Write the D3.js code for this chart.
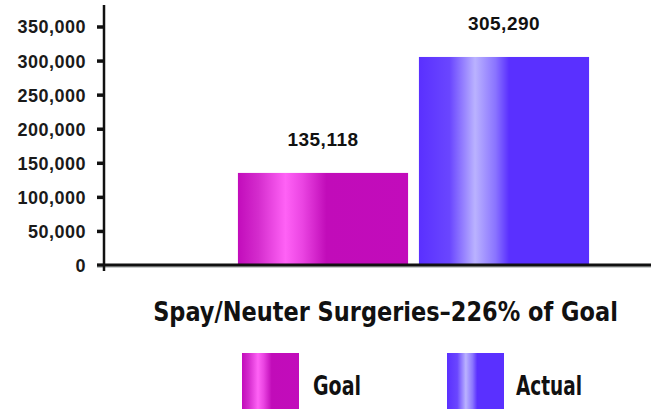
<!DOCTYPE html>
<html>
<head>
<meta charset="utf-8">
<script src="https://cdn.jsdelivr.net/npm/d3@7"></script>
<style>
  html, body { margin: 0; padding: 0; background: #fff; }
  svg { display: block; }
</style>
</head>
<body>
<svg id="chart" width="651" height="409"></svg>
<script>
const categories = ["Goal", "Actual"];
const values = [135118, 305290];
const valueLabels = ["135,118", "305,290"];
const yTicks = [0, 50000, 100000, 150000, 200000, 250000, 300000, 350000];
const title = "Spay/Neuter Surgeries\u2013226% of Goal";

const svg = d3.select("#chart");
const defs = svg.append("defs");

const grads = {
  Goal: [
    [0, "#c20cbb"], [0.12, "#d42ccd"], [0.28, "#ff62f6"], [0.38, "#ea44e2"],
    [0.52, "#c10cb9"], [1, "#c20cbb"]
  ],
  Actual: [
    [0, "#5a30ff"], [0.18, "#6a46ff"], [0.33, "#bab2ff"], [0.45, "#8a74ff"],
    [0.53, "#5a30ff"], [1, "#5a30ff"]
  ]
};
Object.entries(grads).forEach(([k, stops]) => {
  const g = defs.append("linearGradient").attr("id", "g" + k)
    .attr("x1", "0%").attr("x2", "100%").attr("y1", "0%").attr("y2", "0%");
  stops.forEach(([o, c]) => g.append("stop").attr("offset", o).attr("stop-color", c));
});

const y = d3.scaleLinear().domain([0, 350000]).range([265, 26.5]);
const x = d3.scaleBand().domain(categories).range([232.5, 594.5])
  .paddingInner(0.06).paddingOuter(0.03);

const axisX = 104;
const baseY = y(0);

// bars
svg.selectAll("rect.bar").data(categories).join("rect")
  .attr("class", "bar")
  .attr("x", d => x(d))
  .attr("width", x.bandwidth())
  .attr("y", (d, i) => y(values[i]))
  .attr("height", (d, i) => baseY - y(values[i]))
  .attr("fill", d => `url(#g${d})`);

// value labels
svg.selectAll("text.val").data(categories).join("text")
  .attr("class", "val")
  .attr("x", d => x(d) + x.bandwidth() / 2)
  .attr("y", (d, i) => y(values[i]) - 27)
  .attr("text-anchor", "middle")
  .attr("font-family", "'Liberation Sans', Arial, sans-serif")
  .attr("font-weight", "bold")
  .attr("font-size", 19)
  .attr("letter-spacing", 0.5)
  .attr("fill", "#111")
  .text((d, i) => valueLabels[i]);

// y axis
const yAxis = d3.axisLeft(y).tickValues(yTicks).tickFormat(d3.format(","))
  .tickSize(7).tickPadding(11).tickSizeOuter(0);
const ga = svg.append("g").attr("transform", `translate(${axisX},0)`).call(yAxis);
ga.select(".domain").remove();
ga.selectAll(".tick line").attr("stroke", "#111").attr("stroke-width", 3.5);
ga.selectAll(".tick text")
  .attr("font-family", "'Liberation Sans', Arial, sans-serif")
  .attr("font-weight", "bold")
  .attr("font-size", 18)
  .attr("letter-spacing", 0.5)
  .attr("fill", "#1a1a1a")
  .attr("dy", "0.36em");

// baseline with slight shadow
svg.append("line").attr("x1", 97).attr("x2", 651).attr("y1", baseY + 2).attr("y2", baseY + 2)
  .attr("stroke", "#b8bcbc").attr("stroke-width", 1.5);
svg.append("line").attr("x1", 97).attr("x2", 651).attr("y1", baseY).attr("y2", baseY)
  .attr("stroke", "#111").attr("stroke-width", 3);
// vertical axis line
svg.append("line").attr("x1", axisX).attr("x2", axisX).attr("y1", 5).attr("y2", 271)
  .attr("stroke", "#111").attr("stroke-width", 2.5);

// place a condensed-looking text: fit width, then stretch vertically to a cap height
function condensedText(str, px, py, anchor, targetW, targetCap) {
  const g = svg.append("g");
  const t = g.append("text")
    .attr("x", 0).attr("y", 0)
    .attr("text-anchor", anchor)
    .attr("font-family", "'Liberation Sans Narrow', 'DejaVu Sans Condensed', sans-serif")
    .attr("font-weight", "bold")
    .attr("font-size", 28)
    .attr("fill", "#111")
    .text(str);
  const w = t.node().getComputedTextLength();
  const fs = w > 0 ? 28 * targetW / w : 28;
  t.attr("font-size", fs.toFixed(2));
  const sy = Math.max(1, targetCap / (0.73 * fs));
  g.attr("transform", `translate(${px},${py}) scale(1,${sy.toFixed(3)})`);
  return g;
}

// title
condensedText(title, 385.5, 321, "middle", 465, 20);

// legend
const legendX = { Goal: 242, Actual: 447 };
const legendTextX = { Goal: 313, Actual: 516 };
const legendTextW = { Goal: 48, Actual: 66 };
categories.forEach(c => {
  svg.append("rect").attr("x", legendX[c]).attr("y", 353).attr("width", 57).attr("height", 56)
    .attr("fill", `url(#g${c})`);
  condensedText(c, legendTextX[c], 395, "start", legendTextW[c], 19);
});
</script>
</body>
</html>
